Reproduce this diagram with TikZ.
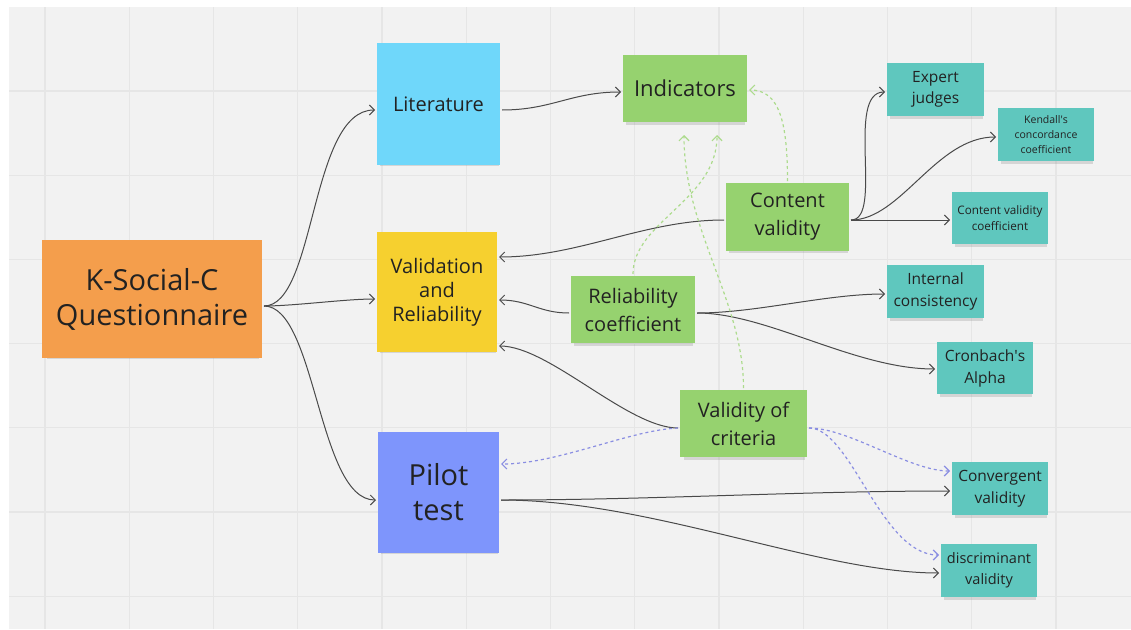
\documentclass[tikz,border=0pt]{standalone}
\usepackage{fontspec}
\setmainfont{Open Sans}
\usetikzlibrary{arrows.meta,shadows}

\definecolor{board}{HTML}{F2F2F2}
\definecolor{gridline}{HTML}{E6E6E6}
\definecolor{orangenote}{HTML}{F49E4C}
\definecolor{skynote}{HTML}{6FD7FA}
\definecolor{yellownote}{HTML}{F6D02F}
\definecolor{bluenote}{HTML}{7E95FC}
\definecolor{greennote}{HTML}{96D26F}
\definecolor{tealnote}{HTML}{5FC7BE}
\definecolor{ink}{HTML}{222222}
\definecolor{wire}{HTML}{4A4A4A}
\definecolor{greendash}{HTML}{ACDB8C}
\definecolor{violetdash}{HTML}{8A8EE2}

\newcommand{\fs}[2]{\fontsize{#1}{#2}\selectfont}

\begin{document}
\begin{tikzpicture}
	[x=1pt,y=-1pt,
	note/.style={rectangle,inner sep=0pt,outer sep=2pt,align=center,text=ink,
		drop shadow={shadow xshift=1pt,shadow yshift=-4pt,opacity=.25,shadow scale=.96}},
	link/.style={draw=wire,line width=1pt,-{Straight Barb[length=5pt,width=10pt]}},
	hint/.style={link,draw=greendash,dash pattern=on 3pt off 3pt,line width=1.2pt},
	crit/.style={link,draw=violetdash,dash pattern=on 3pt off 3pt,line width=1.2pt}]
	\useasboundingbox (0,0) rectangle (1131,629);
	\fill[white] (0,0) rectangle (1131,629);
	\fill[board] (9,7) rectangle (1131,629);
	\foreach \k in {0,...,12}
	\draw[gridline,line width=1.2pt] ({45+84.25*\k},7) -- ({45+84.25*\k},629);
	\foreach \k in {0,...,6}
	\draw[gridline,line width=1.2pt] (9,{91+84.2*\k}) -- (1131,{91+84.2*\k});
	
	% main notes
	\node[note,fill=orangenote,minimum width=220pt,minimum height=118pt,font=\fs{29}{35}] (ksc) at (152,299) {K-Social-C\\Questionnaire};
	\node[note,fill=skynote,minimum width=123pt,minimum height=122pt,font=\fs{20}{24}] (lit) at (438.5,104) {Literature};
	\node[note,fill=yellownote,minimum width=120pt,minimum height=120pt,font=\fs{20}{24}] (valrel) at (437,292) {Validation\\and\\Reliability};
	\node[note,fill=bluenote,minimum width=121pt,minimum height=121pt,font=\fs{29}{35}] (pilot) at (438.5,492.5) {Pilot\\test};
	
	% green notes
	\node[note,fill=greennote,minimum width=124pt,minimum height=67pt,font=\fs{22}{26}] (ind) at (685,88.5) {Indicators};
	\node[note,fill=greennote,minimum width=123pt,minimum height=68pt,font=\fs{20}{28}] (cv) at (787.5,217) {Content\\validity};
	\node[note,fill=greennote,minimum width=124pt,minimum height=67pt,font=\fs{20}{28}] (rc) at (633,309.5) {Reliability\\coefficient};
	\node[note,fill=greennote,minimum width=127pt,minimum height=67pt,font=\fs{20}{28}] (voc) at (743.5,423.5) {Validity of\\criteria};
	
	% teal notes
	\node[note,fill=tealnote,minimum width=97pt,minimum height=53pt,font=\fs{15.5}{21}] (expert) at (935.5,89.5) {Expert\\judges};
	\node[note,fill=tealnote,minimum width=96pt,minimum height=53pt,font=\fs{10.5}{15}] (kendall) at (1046,134.5) {Kendall\textquotesingle s\\concordance\\coefficient};
	\node[note,fill=tealnote,minimum width=96pt,minimum height=52pt,font=\fs{11.7}{16}] (cvc) at (1000,218) {Content validity\\coefficient};
	\node[note,fill=tealnote,minimum width=97pt,minimum height=53pt,font=\fs{15.5}{22}] (ic) at (935.5,291.5) {Internal\\consistency};
	\node[note,fill=tealnote,minimum width=96pt,minimum height=52pt,font=\fs{15.5}{22}] (cron) at (985,368) {Cronbach\textquotesingle s\\Alpha};
	\node[note,fill=tealnote,minimum width=96pt,minimum height=53pt,font=\fs{15.5}{22}] (conv) at (1000,488.5) {Convergent\\validity};
	\node[note,fill=tealnote,minimum width=96pt,minimum height=53pt,font=\fs{14.5}{21}] (disc) at (989,570.5) {discriminant\\validity};
	
	% solid links
	\draw[link] ([yshift=-7pt]ksc.east) .. controls +(52,0) and +(-65,0) .. ([yshift=-6pt]lit.west);
	\draw[link] ([yshift=-7pt]ksc.east) .. controls +(30,0) and +(-30,0) .. ([yshift=-7pt]valrel.west);
	\draw[link] ([yshift=-7pt]ksc.east) .. controls +(52,0) and +(-58,0) .. ([yshift=-7.5pt]pilot.west);
	\draw[link] ([yshift=-6pt]lit.east) .. controls +(50,0) and +(-50,0) .. ([yshift=-3.5pt]ind.west);
	\draw[link] ([yshift=-3pt]cv.west) .. controls +(-80,0) and +(80,0) .. ([yshift=35pt]valrel.east);
	\draw[link] ([yshift=-3pt]cv.east) .. controls +(33,0) and +(-40,0) .. ([yshift=-2.5pt]expert.west);
	\draw[link] ([yshift=-3pt]cv.east) .. controls +(50,0) and +(-60,0) .. ([yshift=-2.5pt]kendall.west);
	\draw[link] ([yshift=-3pt]cv.east) -- ([yshift=-2pt]cvc.west);
	\draw[link] ([yshift=-3.5pt]rc.west) .. controls +(-30,0) and +(30,0) .. ([yshift=-8pt]valrel.east);
	\draw[link] ([yshift=-3.5pt]rc.east) .. controls +(60,0) and +(-60,0) .. ([yshift=-2.5pt]ic.west);
	\draw[link] ([yshift=-3.5pt]rc.east) .. controls +(70,0) and +(-80,0) .. ([yshift=-1pt]cron.west);
	\draw[link] ([yshift=-4.5pt]voc.west) .. controls +(-50,0) and +(50,0) .. ([yshift=-54pt]valrel.east);
	\draw[link] ([yshift=-7.5pt]pilot.east) .. controls +(150,0) and +(-150,0) .. ([yshift=-2.5pt]conv.west);
	\draw[link] ([yshift=-7.5pt]pilot.east) .. controls +(150,0) and +(-120,0) .. ([yshift=-2.5pt]disc.west);
	
	% dashed links
	\draw[crit] ([yshift=-4.5pt]voc.west) .. controls +(-48,2) and +(57,0) .. ([yshift=28.5pt]pilot.east);
	\draw[crit] ([yshift=-4.5pt]voc.east) .. controls +(40,0) and +(-40,0) .. ([yshift=17.5pt]conv.west);
	\draw[crit] ([yshift=-4.5pt]voc.east) .. controls +(42,0) and +(-58,0) .. ([yshift=15.5pt]disc.west);
	\draw[hint] (cv.north) .. controls +(0,-60) and +(30,0) .. ([yshift=-1.5pt]ind.east);
	\draw[hint] (rc.north) .. controls +(0,-52) and +(0,65) .. ([shift={(32pt,-11pt)}]ind.south);
	\draw[hint] (voc.north) .. controls +(0,-87) and +(0,95) .. ([shift={(-1pt,-11pt)}]ind.south);
\end{tikzpicture}
\end{document}
